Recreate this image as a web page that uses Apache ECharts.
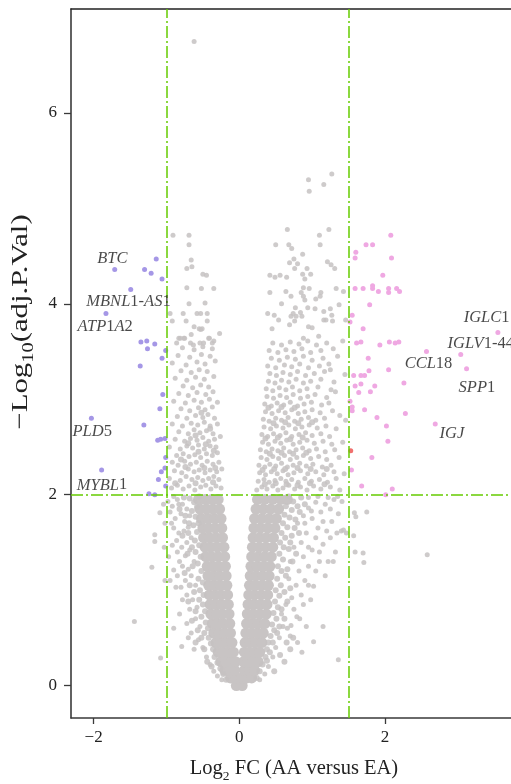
<!DOCTYPE html>
<html><head><meta charset="utf-8">
<script src="https://cdn.jsdelivr.net/npm/echarts@6/dist/echarts.min.js"></script>
<style>html,body{margin:0;padding:0;background:#fff}#c{width:511px;height:784px}</style>
</head><body><div id="c"></div>
<script>
// ---------- data ----------
var xTicks = [-2, 0, 2];
var yTicks = [0, 2, 4, 6];
var fcCutoffs = [-1, 1.5];
var pCutoff = 2;

// dense core of the non-significant genes (V shape)
var grayCore = [
 [-0.04,0.0],[0.04,0.0],
 [-0.12,0.08],[-0.05,0.08],[0.03,0.08],[0.1,0.08],[0.17,0.08],
 [-0.2,0.16],[-0.13,0.16],[-0.06,0.16],[0.07,0.16],[0.14,0.16],[0.21,0.16],
 [-0.25,0.25],[-0.18,0.25],[-0.11,0.25],[-0.05,0.25],[0.06,0.25],[0.12,0.25],[0.19,0.25],[0.26,0.25],
 [-0.29,0.35],[-0.22,0.35],[-0.15,0.35],[-0.08,0.35],[0.07,0.35],[0.14,0.35],[0.21,0.35],[0.28,0.35],
 [-0.32,0.45],[-0.25,0.45],[-0.18,0.45],[-0.1,0.45],[0.08,0.45],[0.15,0.45],[0.23,0.45],[0.31,0.45],
 [-0.35,0.55],[-0.28,0.55],[-0.2,0.55],[-0.12,0.55],[0.09,0.55],[0.17,0.55],[0.25,0.55],[0.33,0.55],
 [-0.37,0.65],[-0.3,0.65],[-0.22,0.65],[-0.13,0.65],[0.1,0.65],[0.18,0.65],[0.26,0.65],[0.35,0.65],
 [-0.39,0.75],[-0.31,0.75],[-0.23,0.75],[-0.14,0.75],[0.11,0.75],[0.19,0.75],[0.28,0.75],[0.37,0.75],
 [-0.4,0.85],[-0.32,0.85],[-0.24,0.85],[-0.15,0.85],[0.12,0.85],[0.2,0.85],[0.29,0.85],[0.38,0.85],
 [-0.41,0.95],[-0.33,0.95],[-0.25,0.95],[-0.16,0.95],[0.13,0.95],[0.21,0.95],[0.3,0.95],[0.39,0.95],
 [-0.42,1.05],[-0.34,1.05],[-0.26,1.05],[-0.17,1.05],[0.14,1.05],[0.22,1.05],[0.31,1.05],[0.4,1.05],
 [-0.43,1.15],[-0.35,1.15],[-0.27,1.15],[-0.18,1.15],[0.15,1.15],[0.23,1.15],[0.32,1.15],[0.41,1.15],
 [-0.44,1.25],[-0.36,1.25],[-0.28,1.25],[-0.19,1.25],[0.16,1.25],[0.24,1.25],[0.33,1.25],[0.42,1.25],
 [-0.46,1.35],[-0.38,1.35],[-0.29,1.35],[-0.2,1.35],[0.17,1.35],[0.26,1.35],[0.35,1.35],[0.44,1.35],
 [-0.47,1.45],[-0.39,1.45],[-0.3,1.45],[-0.21,1.45],[0.18,1.45],[0.27,1.45],[0.36,1.45],[0.46,1.45],
 [-0.49,1.55],[-0.41,1.55],[-0.32,1.55],[-0.23,1.55],[0.19,1.55],[0.28,1.55],[0.37,1.55],[0.47,1.55],
 [-0.5,1.65],[-0.42,1.65],[-0.33,1.65],[-0.24,1.65],[0.2,1.65],[0.29,1.65],[0.39,1.65],[0.49,1.65],
 [-0.52,1.75],[-0.43,1.75],[-0.34,1.75],[-0.25,1.75],[0.21,1.75],[0.31,1.75],[0.41,1.75],[0.51,1.75],
 [-0.54,1.85],[-0.45,1.85],[-0.36,1.85],[-0.27,1.85],[0.23,1.85],[0.33,1.85],[0.43,1.85],[0.54,1.85],
 [-0.56,1.95],[-0.47,1.95],[-0.38,1.95],[-0.29,1.95],[0.25,1.95],[0.35,1.95],[0.46,1.95],[0.57,1.95],[0.66,1.95]
];

// points fringing the core and thickening the arms
var grayFringe = [
 [-0.55,1.98],[-0.62,1.92],[-0.68,1.96],[-0.58,1.87],[-0.65,1.83],[-0.6,1.77],[-0.56,1.7],[-0.63,1.68],[-0.69,1.7],[-0.58,1.61],
 [-0.61,1.52],[-0.55,1.47],[-0.6,1.4],[-0.53,1.35],[-0.57,1.28],[-0.52,1.2],[-0.56,1.12],[-0.5,1.08],[-0.54,1.0],[-0.49,0.95],
 [-0.55,0.9],[-0.5,0.85],[-0.47,0.78],[-0.52,0.72],[-0.46,0.66],[-0.43,0.6],[-0.48,0.55],[-0.42,0.5],[-0.39,0.44],[-0.36,0.38],
 [-0.34,0.3],[-0.3,0.24],[-0.26,0.18],[-0.22,0.12],[-0.18,0.06],
 [-0.76,1.97],[-0.82,1.85],[-0.74,1.78],[-0.78,1.57],[-0.7,1.6],[-0.65,1.45],[-0.71,1.38],[-0.64,1.25],[-0.75,1.18],[-0.68,1.05],
 [-0.62,0.98],[-0.7,0.88],[-0.6,0.78],[-0.65,0.68],[-0.57,0.58],[-0.52,0.5],[-0.6,0.45],[-0.48,0.38],[-0.44,0.25],[-0.38,0.2],
 [0.68,1.98],[0.74,1.93],[0.64,1.88],[0.72,1.84],[0.8,1.88],[0.62,1.79],[0.69,1.76],[0.77,1.74],[0.6,1.7],[0.66,1.66],
 [0.58,1.6],[0.63,1.55],[0.72,1.57],[0.56,1.5],[0.61,1.45],[0.68,1.43],[0.55,1.38],[0.6,1.32],[0.53,1.25],[0.58,1.2],
 [0.66,1.22],[0.52,1.12],[0.57,1.05],[0.5,1.0],[0.55,0.94],[0.49,0.88],[0.53,0.82],[0.47,0.76],[0.51,0.7],[0.45,0.64],
 [0.48,0.58],[0.43,0.52],[0.4,0.45],[0.38,0.38],[0.36,0.3],[0.32,0.22],[0.28,0.15],[0.24,0.08],
 [0.85,1.97],[0.9,1.9],[0.83,1.82],[0.76,1.65],[0.82,1.6],[0.7,1.5],[0.78,1.38],[0.73,1.3],[0.64,1.15],[0.7,1.02],
 [0.62,0.98],[0.66,0.88],[0.58,0.8],[0.62,0.7],[0.55,0.62],[0.52,0.55],[0.46,0.45],[0.42,0.35],[0.38,0.26],[0.56,0.32],
 [0.65,0.45],[0.74,0.5],[0.7,0.38],[0.62,0.25],[0.48,0.15],
 [-0.88,2.12],[-0.6,2.12],[-0.36,2.13],[-0.74,2.29],[-0.48,2.28],[-0.33,2.28],[-0.8,2.37],[-0.56,2.45],[-0.35,2.46],[-0.7,2.54],
 [-0.46,2.53],[-0.6,2.62],[-0.4,2.69],[-0.52,2.86],
 [0.35,2.11],[0.5,2.12],[0.65,2.11],[0.8,2.1],[0.97,2.12],[1.17,2.11],[0.32,2.26],[0.48,2.27],[0.63,2.27],[0.8,2.28],
 [0.98,2.27],[1.2,2.27],[0.42,2.43],[0.58,2.44],[0.74,2.43],[0.92,2.44],[0.36,2.59],[0.53,2.6],[0.7,2.58],[0.87,2.6],
 [0.47,2.75],[0.63,2.76],[0.81,2.75],[1.0,2.76],[0.4,2.91],[0.58,2.92],[0.76,2.91]
];

// scattered non-significant genes
var grayHalo = [
 [-0.98,1.93],[-0.92,1.88],[-0.85,1.95],[-0.78,1.9],[-0.95,1.82],[-0.88,1.75],[-0.8,1.8],[-0.72,1.85],[-0.75,1.72],[-0.68,1.78],
 [-0.9,1.65],[-0.83,1.6],[-0.76,1.62],[-0.7,1.66],[-0.66,1.55],[-0.72,1.5],[-0.79,1.45],[-0.86,1.52],[-0.97,1.35],[-0.9,1.21],
 [-0.82,1.3],[-0.74,1.36],[-0.68,1.42],[-0.62,1.3],[-0.7,1.22],[-0.87,1.03],[-0.8,1.03],[-0.74,1.1],[-0.66,1.15],[-0.6,1.05],
 [-0.72,0.95],[-0.64,0.9],[-0.58,0.82],[-0.68,0.8],[-0.6,0.7],[-0.54,0.62],[-0.66,0.55],[-0.79,0.41],[-0.56,0.48],[-0.5,0.4],
 [-0.45,0.3],[-0.4,0.22],[-0.35,0.15],[-0.3,0.1],[-0.24,0.06],
 [-0.9,1.98],[-0.83,1.9],[-0.93,1.7],[-0.85,1.4],[-0.92,1.47],[-0.78,1.25],[-0.85,1.15],[-0.95,1.1],[-0.78,0.9],[-0.82,0.75],
 [-0.72,0.65],[-0.7,0.5],[-0.9,0.6],[-0.62,0.38],
 [1.41,1.93],[1.3,1.95],[1.18,1.9],[1.05,1.92],[0.95,1.86],[1.12,1.82],[1.27,1.72],[1.0,1.75],[0.88,1.78],[0.8,1.7],
 [1.34,1.6],[1.4,1.62],[1.47,1.6],[1.2,1.62],[1.08,1.65],[0.92,1.6],[0.85,1.5],[1.32,1.4],[1.15,1.48],[1.0,1.42],
 [0.75,1.45],[1.22,1.3],[1.29,1.3],[1.1,1.3],[0.95,1.25],[0.82,1.2],[0.7,1.3],[1.02,1.04],[0.9,1.1],[0.78,1.05],
 [0.68,1.12],[0.85,0.95],[0.72,0.92],[0.64,0.85],[0.79,0.72],[0.83,0.7],[0.6,0.62],[0.66,0.6],[0.71,0.63],[0.58,0.75],
 [0.86,0.35],[1.02,0.46],[1.36,0.27],[0.55,0.5],[0.5,0.4],[0.46,0.3],[0.4,0.2],[0.35,0.12],[0.28,0.06],
 [0.95,1.97],[1.08,1.98],[1.22,1.97],[1.35,1.98],[0.99,1.83],[1.25,1.85],[1.36,1.8],[0.9,1.7],[1.15,1.72],[1.05,1.55],
 [1.25,1.55],[0.95,1.45],[1.1,1.4],[0.88,1.35],[1.05,1.2],[1.18,1.15],[0.95,1.05],[0.88,0.85],[0.98,0.9],[0.75,0.8],
 [0.92,0.62],[0.7,0.52],[1.15,0.62],[0.8,0.45],
 [-1.08,0.29],[-1.44,0.67],[2.58,1.37],[1.75,1.82],[1.58,1.81],[1.6,1.77],[1.43,1.63],[1.57,1.57],[1.59,1.4],[1.7,1.39],
 [1.71,1.29],[-1.16,1.58],[-1.16,1.51],[-1.2,1.24],[-1.09,1.81],[-1.04,1.9],[-1.02,1.7],[-1.03,1.45],[-1.02,1.1]
];

var grayLeftArm = [
 [-0.93,2.07],[-0.85,2.1],[-0.77,2.06],[-0.69,2.09],[-0.61,2.05],[-0.53,2.08],[-0.46,2.1],[-0.39,2.06],[-0.32,2.09],[-0.25,2.07],
 [-0.96,2.17],[-0.81,2.15],[-0.73,2.19],[-0.65,2.16],[-0.57,2.18],[-0.5,2.15],[-0.42,2.17],[-0.35,2.19],[-0.28,2.16],
 [-0.89,2.25],[-0.79,2.23],[-0.7,2.27],[-0.62,2.24],[-0.55,2.26],[-0.47,2.23],[-0.4,2.26],[-0.31,2.24],[-0.24,2.27],
 [-0.92,2.34],[-0.84,2.31],[-0.75,2.35],[-0.67,2.32],[-0.59,2.34],[-0.51,2.31],[-0.44,2.35],[-0.36,2.32],[-0.28,2.34],
 [-0.86,2.41],[-0.77,2.43],[-0.69,2.4],[-0.61,2.42],[-0.53,2.39],[-0.45,2.43],[-0.37,2.41],[-0.3,2.44],
 [-0.96,2.5],[-0.81,2.48],[-0.72,2.51],[-0.64,2.49],[-0.56,2.52],[-0.48,2.48],[-0.4,2.51],[-0.32,2.5],
 [-0.88,2.58],[-0.75,2.56],[-0.67,2.59],[-0.58,2.57],[-0.5,2.6],[-0.42,2.56],[-0.34,2.58],[-0.26,2.61],
 [-0.83,2.66],[-0.7,2.64],[-0.62,2.68],[-0.54,2.65],[-0.45,2.67],[-0.36,2.64],
 [-0.92,2.74],[-0.78,2.72],[-0.66,2.75],[-0.57,2.73],[-0.48,2.76],[-0.4,2.72],[-0.3,2.74],
 [-0.85,2.82],[-0.72,2.8],[-0.6,2.83],[-0.5,2.81],[-0.43,2.84],[-0.34,2.8],
 [-0.8,2.9],[-0.68,2.88],[-0.56,2.91],[-0.47,2.89],[-0.37,2.92],
 [-0.9,2.98],[-0.74,2.96],[-0.62,2.99],[-0.52,2.97],[-0.41,3.0],[-0.3,2.97],
 [-0.83,3.06],[-0.7,3.04],[-0.58,3.07],[-0.46,3.05],[-0.36,3.08],
 [-0.77,3.14],[-0.64,3.12],[-0.53,3.15],[-0.42,3.13],
 [-0.88,3.22],[-0.72,3.2],[-0.6,3.23],[-0.48,3.21],[-0.35,3.24],
 [-0.8,3.3],[-0.66,3.28],[-0.55,3.31],[-0.44,3.29],
 [-0.92,3.38],[-0.73,3.36],[-0.58,3.39],[-0.47,3.37],[-0.33,3.4],
 [-0.84,3.46],[-0.68,3.44],[-0.52,3.47],[-0.4,3.45],
 [-0.78,3.54],[-0.62,3.52],[-0.5,3.55],[-0.37,3.53],
 [-0.83,3.64],[-0.76,3.64],[-0.66,3.68],[-0.53,3.73],[-0.27,3.69],[-0.41,3.64],[-0.86,3.59],[-0.67,3.59],[-0.63,3.57],[-0.54,3.59],
 [-0.49,3.59],[-0.37,3.59],[-0.35,3.61],
 [-0.91,4.72],[-0.69,4.72],[-0.69,4.62],[-0.66,4.46],[-0.72,4.37],[-0.65,4.39],[-0.5,4.31],[-0.45,4.3],[-0.72,4.17],[-0.52,4.16],
 [-0.35,4.16],[-0.69,4.0],[-0.47,4.01],[-0.95,3.9],[-0.77,3.9],[-0.58,3.9],[-0.53,3.9],[-0.44,3.9],[-0.92,3.82],[-0.73,3.82],
 [-0.44,3.82],[-0.62,3.76],[-0.55,3.74],[-0.51,3.74],[-0.81,3.64],[-0.75,3.64],[-0.42,3.64],[-0.62,6.75]
];

var grayRightArm = [
 [0.24,2.05],[0.31,2.08],[0.38,2.06],[0.46,2.09],[0.53,2.05],[0.6,2.07],[0.68,2.1],[0.76,2.06],[0.84,2.08],[0.93,2.05],[1.02,2.09],[1.12,2.06],[1.25,2.08],[1.38,2.05],
 [0.26,2.14],[0.34,2.16],[0.41,2.13],[0.49,2.15],[0.57,2.17],[0.64,2.14],[0.72,2.16],[0.81,2.13],[0.9,2.17],[0.99,2.14],[1.1,2.16],[1.21,2.13],[1.33,2.17],
 [0.28,2.23],[0.36,2.21],[0.44,2.24],[0.52,2.22],[0.6,2.25],[0.67,2.21],[0.75,2.23],[0.84,2.25],[0.94,2.22],[1.05,2.24],[1.16,2.21],[1.3,2.24],[1.44,2.22],
 [0.27,2.31],[0.35,2.29],[0.42,2.32],[0.5,2.3],[0.58,2.33],[0.66,2.29],[0.74,2.31],[0.83,2.33],[0.92,2.3],[1.01,2.32],[1.14,2.29],[1.26,2.31],
 [0.3,2.39],[0.38,2.37],[0.46,2.4],[0.54,2.38],[0.62,2.41],[0.7,2.37],[0.79,2.39],[0.88,2.41],[0.98,2.38],[1.09,2.4],[1.2,2.37],[1.37,2.39],
 [0.29,2.47],[0.37,2.45],[0.45,2.48],[0.53,2.46],[0.61,2.49],[0.69,2.45],[0.78,2.47],[0.87,2.49],[0.96,2.46],[1.06,2.48],[1.18,2.45],[1.31,2.47],
 [0.32,2.55],[0.4,2.53],[0.49,2.56],[0.57,2.54],[0.65,2.57],[0.74,2.53],[0.83,2.55],[0.93,2.57],[1.03,2.54],[1.15,2.56],[1.27,2.53],[1.42,2.55],
 [0.31,2.63],[0.39,2.61],[0.47,2.64],[0.56,2.62],[0.64,2.65],[0.72,2.61],[0.82,2.63],[0.91,2.65],[1.0,2.62],[1.12,2.64],[1.24,2.61],
 [0.34,2.71],[0.43,2.69],[0.51,2.72],[0.6,2.7],[0.68,2.73],[0.77,2.69],[0.86,2.71],[0.96,2.73],[1.07,2.7],[1.19,2.72],[1.33,2.69],
 [0.33,2.79],[0.41,2.77],[0.5,2.8],[0.58,2.78],[0.67,2.81],[0.76,2.77],[0.85,2.79],[0.95,2.81],[1.05,2.78],[1.17,2.8],[1.38,2.83],[1.46,2.78],
 [0.36,2.87],[0.45,2.85],[0.54,2.88],[0.63,2.86],[0.72,2.89],[0.81,2.85],[0.9,2.87],[1.0,2.89],[1.11,2.86],[1.28,2.88],
 [0.35,2.95],[0.44,2.93],[0.52,2.96],[0.61,2.94],[0.7,2.97],[0.8,2.93],[0.89,2.95],[0.99,2.97],[1.13,2.94],[1.23,2.96],
 [0.38,3.03],[0.47,3.01],[0.56,3.04],[0.65,3.02],[0.74,3.05],[0.84,3.01],[0.94,3.03],[1.04,3.05],[1.2,3.02],[1.32,3.08],
 [0.37,3.11],[0.46,3.09],[0.55,3.12],[0.64,3.1],[0.73,3.13],[0.83,3.09],[0.93,3.11],[1.08,3.13],[1.26,3.1],
 [0.4,3.19],[0.49,3.17],[0.58,3.2],[0.68,3.18],[0.78,3.21],[0.88,3.17],[0.98,3.19],[1.12,3.21],[1.3,3.18],
 [0.42,3.27],[0.51,3.25],[0.6,3.28],[0.7,3.26],[0.8,3.29],[0.91,3.25],[1.03,3.27],[1.17,3.29],[1.45,3.26],[1.25,3.31],
 [0.39,3.35],[0.5,3.33],[0.62,3.36],[0.72,3.34],[0.83,3.37],[0.95,3.33],[1.1,3.35],[1.23,3.37],
 [0.44,3.43],[0.55,3.41],[0.66,3.44],[0.77,3.42],[0.88,3.45],[1.0,3.41],[1.15,3.43],[1.35,3.45],
 [0.41,3.51],[0.53,3.49],[0.64,3.52],[0.75,3.5],[0.86,3.53],[0.98,3.49],[1.12,3.51],[1.29,3.53],
 [0.46,3.59],[0.58,3.57],[0.7,3.6],[0.82,3.58],[0.94,3.61],[1.06,3.57],[1.2,3.59],[1.42,3.61],
 [1.27,5.36],[0.95,5.3],[1.16,5.25],[0.96,5.18],[0.66,4.78],[1.23,4.78],[1.1,4.72],[0.5,4.62],[0.68,4.62],[1.11,4.62],
 [0.72,4.58],[0.87,4.52],[0.75,4.47],[0.69,4.43],[0.8,4.42],[0.76,4.37],[1.21,4.44],[1.26,4.41],[1.31,4.37],[0.93,4.37],
 [0.87,4.31],[0.98,4.31],[0.9,4.26],[0.42,4.3],[0.49,4.28],[0.56,4.3],[0.65,4.28],[0.88,4.17],[0.96,4.16],[1.33,4.16],
 [1.43,4.13],[0.42,4.12],[0.64,4.13],[0.85,4.12],[0.71,4.08],[0.88,4.08],[1.12,4.12],[1.11,4.08],[1.05,4.05],[0.9,4.04],
 [0.58,4.0],[0.77,3.96],[0.94,3.96],[1.04,3.95],[1.25,3.95],[1.37,3.99],[0.39,3.9],[0.48,3.88],[0.71,3.87],[0.74,3.9],
 [0.78,3.87],[0.84,3.91],[0.86,3.87],[1.16,3.92],[1.27,3.88],[0.54,3.83],[0.76,3.82],[1.16,3.83],[1.19,3.83],[1.28,3.82],
 [1.46,3.83],[0.69,3.78],[0.95,3.76],[1.0,3.75],[0.45,3.74],[1.09,3.66],[0.88,3.64]
];

// significant genes
var downGenes = [
 [-1.14,4.47],[-1.71,4.36],[-1.3,4.36],[-1.21,4.32],[-1.06,4.26],[-1.49,4.15],[-1.83,3.9],[-1.35,3.6],[-1.27,3.61],[-1.16,3.58],
 [-1.26,3.53],[-1.01,3.51],[-1.06,3.43],[-1.36,3.35],[-1.05,3.05],[-1.09,2.9],[-2.03,2.8],[-1.31,2.73],[-1.12,2.57],[-1.08,2.58],
 [-1.02,2.59],[-1.01,2.39],[-1.89,2.26],[-1.02,2.28],[-1.07,2.24],[-1.11,2.16],[-1.01,2.09],[-1.24,2.01],[-1.16,2.0]
];
var upGenes = [
 [2.08,4.72],[1.74,4.62],[1.83,4.62],[1.6,4.54],[1.59,4.48],[2.09,4.48],[1.97,4.3],[1.59,4.16],[1.7,4.16],[1.83,4.19],
 [1.83,4.16],[1.91,4.13],[2.05,4.16],[2.05,4.12],[2.16,4.16],[2.2,4.13],[1.79,3.99],[1.55,3.88],[1.52,3.81],[1.7,3.74],
 [1.61,3.59],[1.67,3.6],[1.93,3.57],[2.06,3.6],[2.14,3.59],[2.19,3.6],[3.55,3.7],[3.04,3.47],[2.57,3.5],[3.12,3.32],
 [1.77,3.43],[1.78,3.3],[2.05,3.31],[1.57,3.25],[1.67,3.25],[1.72,3.25],[2.26,3.17],[1.59,3.14],[1.67,3.16],[1.86,3.14],
 [1.64,3.07],[1.8,3.08],[1.52,2.98],[1.55,2.92],[1.55,2.88],[1.72,2.89],[2.28,2.85],[1.89,2.81],[2.02,2.72],[2.69,2.74],
 [2.04,2.56],[1.82,2.39],[1.54,2.26],[1.68,2.09],[2.1,2.06],[2.01,2.0]
];
var flaggedGenes = [[1.53,2.46]];

var geneNames  = ['BTC','MBNL1-AS1','ATP1A2','PLD5','MYBL1','IGLC1','IGLV1-44','CCL18','SPP1','IGJ'];
var geneLabelX = [-1.95,-2.10,-2.22,-2.29,-2.23,3.08,2.86,2.27,3.01,2.75];
var geneLabelY = [4.47,4.02,3.76,2.66,2.10,3.86,3.58,3.37,3.12,2.64];

// ---------- chart ----------
var SERIF = '"Liberation Serif","DejaVu Serif",serif';
var chart = echarts.init(document.getElementById('c'), null, {renderer:'canvas'});
function minus(v){ return String(v).replace('-', '\u2212'); }
function richName(n){
  return n.replace(/([A-Z]+)|([^A-Z]+)/g, function(m,a,b){ return a ? '{i|'+a+'}' : '{r|'+b+'}'; });
}
var labelData = geneNames.map(function(n,i){ return [geneLabelX[i], geneLabelY[i], n]; });
var AX = '#3a3a3a';
var X_MIN = -2.31, X_MAX = 3.73, Y_MIN = -0.34, Y_MAX = 7.09;

var option = {
  animation: false,
  backgroundColor: '#fff',
  grid: {left:71, top:9, right:0, bottom:66},
  xAxis: [{
    type:'value', min:X_MIN, max:X_MAX, position:'bottom',
    splitLine:{show:false},
    axisLine:{show:true, onZero:false, lineStyle:{color:AX, width:1.5}},
    axisTick:{show:true, length:6, lineStyle:{color:AX, width:1.3}, customValues:xTicks},
    axisLabel:{color:'#222', fontFamily:SERIF, fontSize:17, margin:11, customValues:xTicks, formatter:minus}
  },{
    type:'value', min:X_MIN, max:X_MAX, position:'top',
    splitLine:{show:false},
    axisLine:{show:true, onZero:false, lineStyle:{color:'#222', width:1.5}},
    axisTick:{show:false}, axisLabel:{show:false}
  }],
  yAxis: {
    type:'value', min:Y_MIN, max:Y_MAX,
    splitLine:{show:false},
    axisLine:{show:true, onZero:false, lineStyle:{color:AX, width:1.6}},
    axisTick:{show:true, length:7, lineStyle:{color:AX, width:1.3}, customValues:yTicks},
    axisLabel:{color:'#222', fontFamily:SERIF, fontSize:17, margin:14, customValues:yTicks, formatter:minus}
  },
  series: [
    {type:'scatter', name:'core', data:grayCore, symbolSize:11, itemStyle:{color:'#c8c4c4', opacity:1}, z:1, silent:true},
    {type:'scatter', name:'fringe', data:grayFringe, symbolSize:6, itemStyle:{color:'#c6c2c2', opacity:0.85}, z:2, silent:true},
    {type:'scatter', name:'halo', data:grayHalo, symbolSize:5, itemStyle:{color:'#c6c2c2', opacity:0.85}, z:2, silent:true},
    {type:'scatter', name:'left', data:grayLeftArm, symbolSize:5, itemStyle:{color:'#c6c2c2', opacity:0.85}, z:2, silent:true},
    {type:'scatter', name:'right', data:grayRightArm, symbolSize:5, itemStyle:{color:'#c6c2c2', opacity:0.85}, z:2, silent:true},
    {type:'scatter', name:'cut', data:[], z:3, silent:true,
      markLine:{silent:true, symbol:'none', animation:false, label:{show:false},
        lineStyle:{color:'#66cc00', width:1.5, type:[12,3,2,3]},
        data:[{yAxis:pCutoff},{xAxis:fcCutoffs[0]},{xAxis:fcCutoffs[1]}]}},
    {type:'scatter', name:'down', data:downGenes, symbolSize:5, itemStyle:{color:'#a597e6', opacity:1}, z:4},
    {type:'scatter', name:'up', data:upGenes, symbolSize:5, itemStyle:{color:'#efa8e2', opacity:1}, z:4},
    {type:'scatter', name:'flag', data:flaggedGenes, symbolSize:5, itemStyle:{color:'#f0706e', opacity:1}, z:4},
    {type:'scatter', name:'labels', data:labelData, symbolSize:0, z:5, silent:true,
      label:{show:true, position:[0,0], align:'left', verticalAlign:'middle',
        formatter:function(p){ return richName(p.data[2]); },
        rich:{
          i:{fontFamily:SERIF, fontStyle:'italic', fontSize:16.5, color:'#1a1a1a'},
          r:{fontFamily:SERIF, fontSize:16.5, color:'#1a1a1a'}
        }}}
  ],
  graphic: [
    {type:'text', x:294, y:769, z:10, style:{
      text:'{m|Log}{s|2}{m| FC (AA versus EA)}', align:'center', verticalAlign:'middle',
      rich:{ m:{fontFamily:SERIF, fontSize:20.5, lineHeight:28, fill:'#222', color:'#222'},
             s:{fontFamily:SERIF, fontSize:13.5, lineHeight:13, verticalAlign:'bottom', fill:'#222', color:'#222'} }}},
    {type:'text', x:21, y:322, rotation:Math.PI/2, scaleX:1.28, z:10, style:{
      text:'{m|\u2212Log}{s|10}{m|(adj.P.Val)}', align:'center', verticalAlign:'middle',
      rich:{ m:{fontFamily:SERIF, fontSize:24, lineHeight:32, fill:'#222', color:'#222'},
             s:{fontFamily:SERIF, fontSize:16, lineHeight:15, verticalAlign:'bottom', fill:'#222', color:'#222'} }}}
  ]
};
chart.setOption(option);
</script></body></html>
